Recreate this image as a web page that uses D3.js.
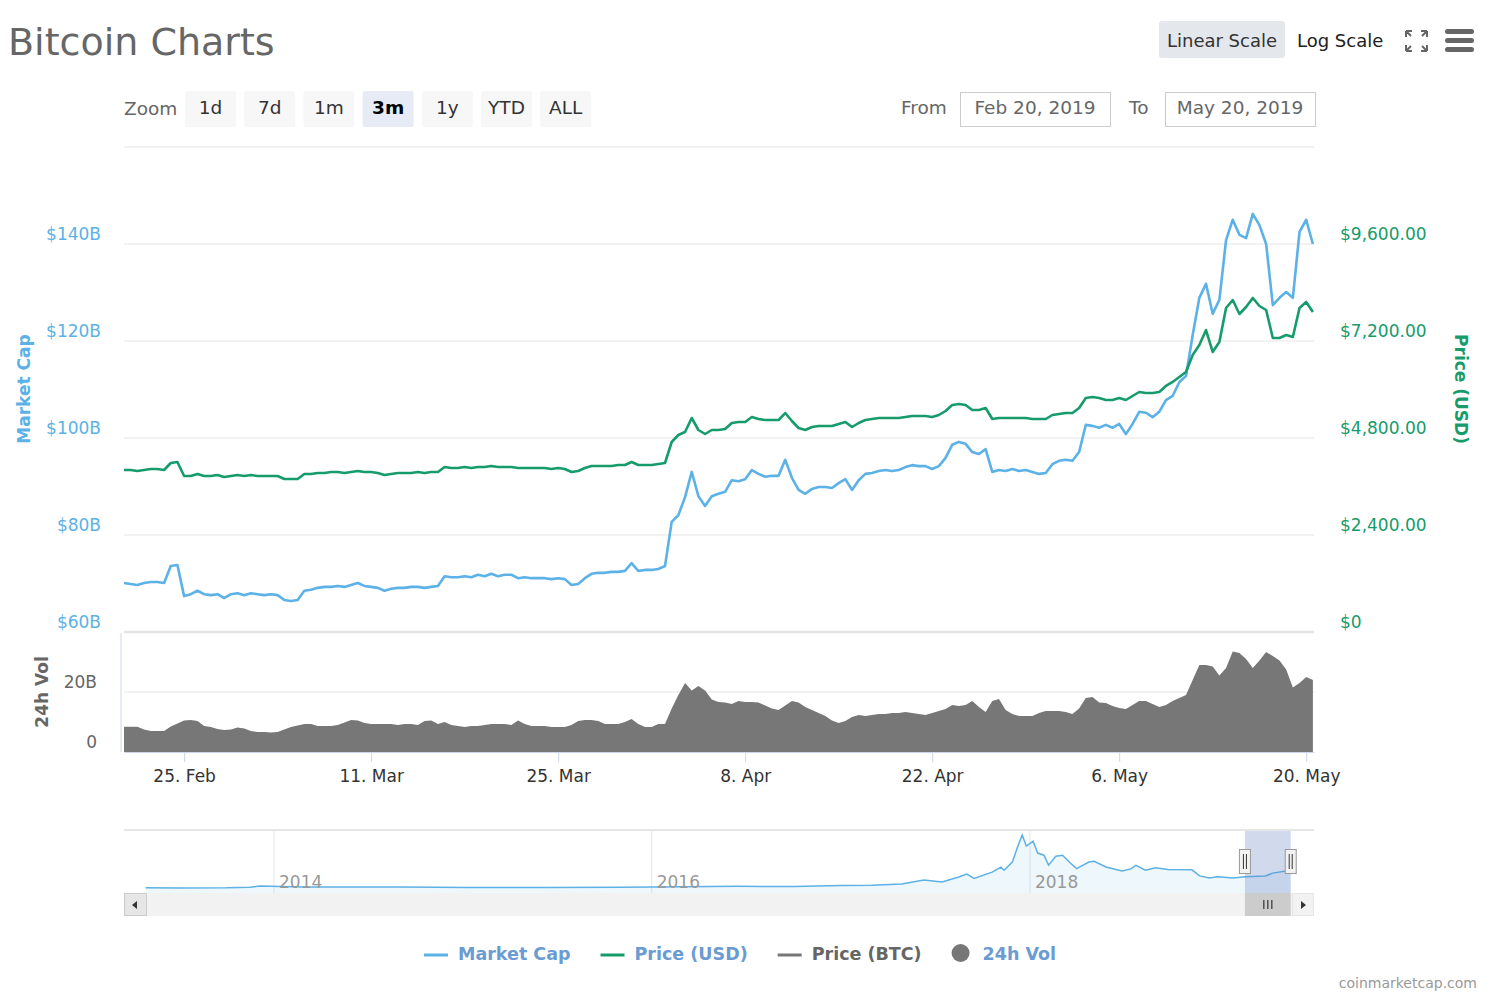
<!DOCTYPE html>
<html lang="en">
<head>
  <meta charset="UTF-8">
  <title>Bitcoin Charts</title>
  <style type="text/css">
    body {
      margin: 0;
      background: #fff;
    }
    svg text {
      font-family: "DejaVu Sans", sans-serif;
    }
    .axis-label text {
      font-size: 17px;
    }
    .axis-title {
      font-size: 17px;
      font-weight: bold;
    }
  </style>
</head>
<body>

  <svg id="chart" width="1496" height="1000"></svg>

<script src="https://d3js.org/d3.v7.min.js"></script>
<script>
  // ---- data (12h steps from Feb 20 2019 12:00 UTC) ----
  const startTime = Date.UTC(2019, 1, 20, 12)
  const stepHours = 12

  // market cap, billions USD
  const marketCap = [
    70.1, 69.9, 69.7, 70.1, 70.3, 70.3, 70.1, 73.6, 73.8, 67.4,
    67.8, 68.5, 67.8, 67.6, 67.8, 67.0, 67.8, 68.0, 67.6, 68.0,
    67.8, 67.6, 67.8, 67.6, 66.6, 66.4, 66.6, 68.5, 68.7, 69.1,
    69.3, 69.3, 69.5, 69.3, 69.7, 70.1, 69.5, 69.3, 69.1, 68.5,
    68.9, 69.1, 69.1, 69.3, 69.3, 69.1, 69.3, 69.5, 71.5, 71.3,
    71.3, 71.5, 71.3, 71.8, 71.5, 72.0, 71.5, 71.8, 71.8, 71.1,
    71.3, 71.1, 71.1, 71.1, 70.9, 71.1, 70.9, 69.7, 69.9, 71.1,
    72.0, 72.2, 72.2, 72.4, 72.4, 72.6, 74.2, 72.6, 72.8, 72.8,
    73.0, 73.6, 82.7, 84.1, 87.8, 93.0, 88.0, 86.0, 88.0, 88.5,
    88.9, 91.3, 91.1, 91.5, 93.4, 92.6, 92.0, 92.2, 92.2, 95.5,
    91.8, 89.3, 88.5, 89.5, 89.9, 89.9, 89.7, 90.7, 91.5, 89.3,
    91.3, 92.6, 92.8, 93.2, 93.4, 93.2, 93.4, 94.0, 94.4, 94.2,
    94.2, 93.6, 94.2, 95.9, 98.6, 99.2, 98.8, 97.1, 96.7, 97.7,
    93.0, 93.4, 93.2, 93.6, 93.2, 93.4, 93.0, 92.6, 92.8, 94.6,
    95.3, 95.5, 95.3, 97.1, 102.7, 102.5, 102.1, 102.7, 102.1, 102.9,
    100.8, 102.9, 105.4, 105.2, 104.3, 105.4, 107.8, 108.7, 111.5, 112.8,
    121.2, 128.9, 131.8, 125.6, 128.5, 140.8, 145.0, 141.9, 141.2, 146.2,
    143.9, 140.0, 127.4, 128.9, 130.1, 128.9, 142.5, 145.0, 140.0
  ]

  // price, USD
  const priceUsd = [
    4008, 4008, 3983, 4008, 4033, 4033, 4008, 4181, 4206, 3860,
    3860, 3909, 3860, 3860, 3884, 3835, 3860, 3884, 3860, 3884,
    3860, 3860, 3860, 3860, 3786, 3786, 3786, 3909, 3909, 3934,
    3934, 3959, 3959, 3934, 3959, 3983, 3959, 3959, 3934, 3884,
    3909, 3934, 3934, 3934, 3959, 3934, 3959, 3959, 4082, 4058,
    4058, 4082, 4058, 4082, 4082, 4107, 4082, 4082, 4082, 4058,
    4058, 4058, 4058, 4058, 4033, 4058, 4033, 3959, 3983, 4058,
    4107, 4107, 4107, 4107, 4132, 4132, 4206, 4132, 4132, 4132,
    4157, 4181, 4701, 4874, 4948, 5295, 4998, 4899, 4998, 4998,
    5023, 5171, 5196, 5196, 5320, 5270, 5245, 5245, 5245, 5418,
    5221, 5047, 4998, 5072, 5097, 5097, 5097, 5146, 5196, 5072,
    5171, 5245, 5270, 5295, 5295, 5295, 5295, 5320, 5344, 5344,
    5344, 5320, 5369, 5468, 5616, 5641, 5616, 5493, 5493, 5542,
    5270, 5295, 5295, 5295, 5295, 5295, 5270, 5270, 5270, 5369,
    5394, 5418, 5418, 5542, 5790, 5814, 5790, 5740, 5740, 5790,
    5740, 5839, 5938, 5913, 5913, 5938, 6087, 6186, 6309, 6433,
    6854, 7101, 7472, 6928, 7175, 8016, 8214, 7868, 8041, 8264,
    8066, 7967, 7274, 7274, 7348, 7299, 8016, 8165, 7917
  ]

  // 24h volume, billions USD
  const volume24h = [
    8.4, 8.4, 8.4, 7.5, 7.0, 7.0, 7.0, 8.5, 9.5, 10.5,
    10.7, 10.3, 8.7, 8.3, 7.7, 7.3, 7.5, 8.2, 7.8, 7.0,
    6.7, 6.7, 6.5, 6.7, 7.5, 8.3, 8.8, 9.3, 9.3, 8.7,
    8.7, 8.7, 9.0, 9.8, 10.7, 10.5, 9.7, 9.3, 9.3, 9.3,
    9.3, 9.0, 9.3, 9.3, 9.0, 10.3, 10.5, 9.3, 10.0, 9.0,
    8.7, 8.3, 8.7, 8.7, 9.0, 9.3, 9.3, 9.3, 9.0, 10.5,
    9.3, 8.7, 8.7, 8.7, 8.3, 8.3, 8.3, 9.0, 10.3, 10.7,
    10.7, 10.3, 9.3, 9.3, 9.3, 10.0, 11.0, 9.3, 8.3, 8.3,
    9.3, 9.3, 14.5, 19.0, 23.0, 20.5, 22.0, 20.5, 17.5, 16.7,
    16.5, 16.0, 17.0, 16.7, 16.7, 16.5, 15.5, 14.5, 14.0, 15.5,
    17.0, 16.5, 15.0, 14.0, 13.0, 12.0, 10.5, 9.7, 10.3, 11.7,
    12.3, 12.0, 12.3, 12.7, 12.7, 13.0, 13.0, 13.3, 13.0, 12.7,
    12.3, 13.0, 13.7, 14.3, 15.7, 15.3, 15.7, 17.0, 15.0, 13.3,
    17.0, 17.7, 14.0, 12.7, 12.0, 12.0, 12.0, 13.0, 13.7, 13.7,
    13.7, 13.3, 12.7, 14.5, 18.0, 18.3, 16.5, 16.3, 15.3, 14.7,
    14.3, 15.7, 17.0, 17.0, 16.0, 15.0, 15.7, 17.0, 18.0, 19.0,
    24.0, 29.0, 29.0, 28.5, 25.5, 28.0, 33.5, 33.0, 31.0, 28.0,
    30.5, 33.3, 32.0, 30.5, 27.5, 21.5, 23.0, 25.0, 24.0
  ]

  const capTicks = [60, 80, 100, 120, 140]
  const capGrid = [60, 80, 100, 120, 140, 160]
  const priceTicks = [0, 2400, 4800, 7200, 9600]
  const volTicks = [0, 20]
  const dateTicks = ['2019-02-25', '2019-03-11', '2019-03-25', '2019-04-08', '2019-04-22', '2019-05-06', '2019-05-20']

  // navigator: whole history of market cap, billions USD
  const navDates = [
    '2013-04-28', '2013-07-01', '2013-10-01', '2013-11-15', '2013-12-04',
    '2014-01-15', '2014-03-01', '2014-06-01', '2014-09-01',
    '2015-01-15', '2015-06-01', '2015-11-05',
    '2016-01-01', '2016-06-15', '2016-10-01',
    '2017-01-01', '2017-03-01', '2017-04-28', '2017-06-10', '2017-07-15',
    '2017-08-15', '2017-09-01', '2017-09-15', '2017-10-20', '2017-11-06',
    '2017-11-12', '2017-11-28', '2017-12-08', '2017-12-17', '2017-12-25',
    '2018-01-07', '2018-01-16', '2018-01-28', '2018-02-06', '2018-02-20',
    '2018-03-05', '2018-03-18', '2018-04-01', '2018-04-25', '2018-05-05',
    '2018-05-28', '2018-06-28', '2018-07-15', '2018-07-25', '2018-08-12',
    '2018-09-01', '2018-09-25', '2018-11-10', '2018-11-25', '2018-12-14',
    '2018-12-29', '2019-01-29', '2019-02-20', '2019-04-01', '2019-04-15',
    '2019-05-20'
  ]
  const navCap = [
    1.5, 1.0, 1.5, 5, 13,
    10, 7, 7.5, 6.5,
    3, 3.5, 6,
    6.5, 11, 10,
    16, 18, 25, 49, 37,
    67, 86, 60, 98, 129,
    110, 160, 252, 326, 258,
    288, 215, 202, 141, 196,
    202, 160, 120, 160, 165,
    130, 105, 118, 140, 110,
    125, 115, 112, 75, 62,
    70, 62, 70, 74, 92,
    110
  ]
  const navYears = ['2014-01-01', '2016-01-01', '2018-01-01']

  const zoomButtons = ['1d', '7d', '1m', '3m', '1y', 'YTD', 'ALL']
  const legendItems = [
    { name: 'Market Cap', color: '#5cb1e6', symbol: 'line', text: '#6a9bd3' },
    { name: 'Price (USD)', color: '#169b6b', symbol: 'line', text: '#6a9bd3' },
    { name: 'Price (BTC)', color: '#777777', symbol: 'line', text: '#666666' },
    { name: '24h Vol', color: '#777777', symbol: 'circle', text: '#6a9bd3' }
  ]

  // ---- drawing ----
  const blue = '#5cb1e6'
  const green = '#169b6b'
  const grid = '#e6e6e6'
  const axisLine = '#ccd6eb'

  const svg = d3.select('#chart')
  const parse = d3.utcParse('%Y-%m-%d')
  const times = marketCap.map((d, i) => new Date(startTime + i * stepHours * 3600 * 1000))

  // header
  svg.append('text').attr('x', 8).attr('y', 55)
    .style('font-size', '38px').attr('fill', '#666').text('Bitcoin Charts')

  svg.append('rect').attr('x', 1159).attr('y', 21).attr('width', 126).attr('height', 37)
    .attr('rx', 3).attr('fill', '#e4e7ec')
  svg.append('text').attr('x', 1222).attr('y', 47).attr('text-anchor', 'middle')
    .style('font-size', '18px').attr('fill', '#333').text('Linear Scale')
  svg.append('text').attr('x', 1297).attr('y', 47)
    .style('font-size', '18px').attr('fill', '#222').text('Log Scale')

  // fullscreen icon
  const fs = svg.append('g').attr('stroke', '#666').attr('stroke-width', 2).attr('fill', 'none')
  fs.append('path').attr('d', 'M1406,31 h6 M1406,31 v6 M1406,31 l5,5')
  fs.append('path').attr('d', 'M1427,31 h-6 M1427,31 v6 M1427,31 l-5,5')
  fs.append('path').attr('d', 'M1406,51 h6 M1406,51 v-6 M1406,51 l5,-5')
  fs.append('path').attr('d', 'M1427,51 h-6 M1427,51 v-6 M1427,51 l-5,-5')

  // menu icon
  ;[29, 38, 47].forEach(y => {
    svg.append('rect').attr('x', 1445).attr('y', y).attr('width', 29).attr('height', 5)
      .attr('rx', 2.5).attr('fill', '#666')
  })

  // zoom buttons
  svg.append('text').attr('x', 124).attr('y', 115)
    .style('font-size', '18.5px').attr('fill', '#666').text('Zoom')
  zoomButtons.forEach((b, i) => {
    const bx = 185 + i * 59.2
    const sel = b === '3m'
    svg.append('rect').attr('x', bx).attr('y', 91).attr('width', 51).attr('height', 36)
      .attr('rx', 2).attr('fill', sel ? '#e6ebf5' : '#f7f7f7')
    svg.append('text').attr('x', bx + 25.5).attr('y', 114).attr('text-anchor', 'middle')
      .style('font-size', '18.5px').style('font-weight', sel ? 'bold' : 'normal')
      .attr('fill', sel ? '#000' : '#333').text(b)
  })

  // date range inputs
  svg.append('text').attr('x', 901).attr('y', 114)
    .style('font-size', '18.5px').attr('fill', '#666').text('From')
  svg.append('text').attr('x', 1129).attr('y', 114)
    .style('font-size', '18.5px').attr('fill', '#666').text('To')
  ;[[960, 'Feb 20, 2019'], [1165, 'May 20, 2019']].forEach(([bx, label]) => {
    svg.append('rect').attr('x', bx + 0.5).attr('y', 92.5).attr('width', 150).attr('height', 34)
      .attr('fill', '#fff').attr('stroke', '#ccc')
    svg.append('text').attr('x', bx + 75).attr('y', 114).attr('text-anchor', 'middle')
      .style('font-size', '18.5px').attr('fill', '#666').text(label)
  })

  // scales
  const x = d3.scaleUtc()
    .domain([new Date(Date.UTC(2019, 1, 20, 12)), new Date(Date.UTC(2019, 4, 20, 14))])
    .range([124, 1314])
  const yCap = d3.scaleLinear().domain([60, 160]).range([632, 147])
  const yPrice = d3.scaleLinear().domain([0, 12000]).range([632, 147])
  const yVol = d3.scaleLinear().domain([0, 40]).range([752, 632])

  // grid lines
  svg.append('g').selectAll('line').data(capGrid).join('line')
    .attr('x1', 124).attr('x2', 1314)
    .attr('y1', d => yCap(d)).attr('y2', d => yCap(d))
    .attr('stroke', grid).attr('stroke-width', d => d === 60 ? 2.5 : 1.2)
  svg.append('line').attr('x1', 124).attr('x2', 1314)
    .attr('y1', yVol(20)).attr('y2', yVol(20)).attr('stroke', grid).attr('stroke-width', 1.2)
  svg.append('line').attr('x1', 121).attr('x2', 121).attr('y1', 633).attr('y2', 752)
    .attr('stroke', axisLine)

  // volume
  const volArea = d3.area()
    .x((d, i) => x(times[i]))
    .y0(yVol(0))
    .y1(d => yVol(d))
  svg.append('path').datum(volume24h).attr('d', volArea).attr('fill', '#777')

  // lines
  const capLine = d3.line().x((d, i) => x(times[i])).y(d => yCap(d))
  const priceLine = d3.line().x((d, i) => x(times[i])).y(d => yPrice(d))
  svg.append('path').datum(marketCap).attr('d', capLine)
    .attr('fill', 'none').attr('stroke', blue).attr('stroke-width', 2.6).attr('stroke-linejoin', 'round')
  svg.append('path').datum(priceUsd).attr('d', priceLine)
    .attr('fill', 'none').attr('stroke', green).attr('stroke-width', 2.6).attr('stroke-linejoin', 'round')

  // axes
  const capAxis = svg.append('g').attr('class', 'axis-label').attr('transform', 'translate(101,-10)')
    .call(d3.axisLeft(yCap).tickValues(capTicks).tickSize(0).tickPadding(0)
      .tickFormat(d => '$' + d + 'B'))
  capAxis.select('.domain').remove()
  capAxis.selectAll('text').attr('fill', blue)

  const priceAxis = svg.append('g').attr('class', 'axis-label').attr('transform', 'translate(1340,-10)')
    .call(d3.axisRight(yPrice).tickValues(priceTicks).tickSize(0).tickPadding(0)
      .tickFormat(d => d === 0 ? '$0' : '$' + d3.format(',.2f')(d)))
  priceAxis.select('.domain').remove()
  priceAxis.selectAll('text').attr('fill', green)

  const volAxis = svg.append('g').attr('class', 'axis-label').attr('transform', 'translate(97,-10)')
    .call(d3.axisLeft(yVol).tickValues(volTicks).tickSize(0).tickPadding(0)
      .tickFormat(d => d === 0 ? '0' : d + 'B'))
  volAxis.select('.domain').remove()
  volAxis.selectAll('text').attr('fill', '#666')

  const xAxis = svg.append('g').attr('class', 'axis-label').attr('transform', 'translate(0,752)')
    .call(d3.axisBottom(x).tickValues(dateTicks.map(parse)).tickSize(10).tickSizeOuter(0).tickPadding(8)
      .tickFormat(d3.utcFormat('%-d. %b')))
  xAxis.select('.domain').attr('stroke', axisLine)
  xAxis.selectAll('.tick line').attr('stroke', axisLine)
  xAxis.selectAll('text').attr('fill', '#333')

  // axis titles
  svg.append('text').attr('class', 'axis-title').attr('transform', 'translate(30,389) rotate(-90)')
    .attr('text-anchor', 'middle').attr('fill', blue).text('Market Cap')
  svg.append('text').attr('class', 'axis-title').attr('transform', 'translate(48,692) rotate(-90)')
    .attr('text-anchor', 'middle').attr('fill', '#666').text('24h Vol')
  svg.append('text').attr('class', 'axis-title').attr('transform', 'translate(1455,389) rotate(90)')
    .attr('text-anchor', 'middle').attr('fill', green).text('Price (USD)')

  // ---- navigator ----
  const navX = d3.scaleUtc()
    .domain([new Date(Date.UTC(2013, 2, 17)), new Date(Date.UTC(2019, 6, 4))])
    .range([124, 1314])
  const navY = d3.scaleLinear().domain([-30, 326]).range([893, 835])
  const navTimes = navDates.map(parse)

  svg.append('line').attr('x1', 124).attr('x2', 1314).attr('y1', 830).attr('y2', 830)
    .attr('stroke', grid).attr('stroke-width', 2)
  svg.append('g').selectAll('line').data(navYears.map(parse)).join('line')
    .attr('x1', d => navX(d)).attr('x2', d => navX(d)).attr('y1', 831).attr('y2', 893)
    .attr('stroke', grid)

  svg.append('path').datum(navCap)
    .attr('d', d3.area().x((d, i) => navX(navTimes[i])).y0(893).y1(d => navY(d)))
    .attr('fill', 'rgba(92,177,230,0.1)')
  svg.append('path').datum(navCap)
    .attr('d', d3.line().x((d, i) => navX(navTimes[i])).y(d => navY(d)))
    .attr('fill', 'none').attr('stroke', blue).attr('stroke-width', 1.5)

  svg.append('g').selectAll('text').data(navYears.map(parse)).join('text')
    .attr('x', d => navX(d) + 5).attr('y', 888)
    .style('font-size', '17px').attr('fill', '#999')
    .text(d => d3.utcFormat('%Y')(d))

  const selX0 = navX(x.domain()[0])
  const selX1 = navX(new Date(Date.UTC(2019, 4, 20)))
  svg.append('rect').attr('x', selX0).attr('y', 831).attr('width', selX1 - selX0).attr('height', 62)
    .attr('fill', 'rgba(102,133,194,0.3)')

  // scrollbar
  svg.append('rect').attr('x', 124).attr('y', 893).attr('width', 1190).attr('height', 23)
    .attr('fill', '#f2f2f2')
  svg.append('rect').attr('x', selX0).attr('y', 893).attr('width', selX1 - selX0).attr('height', 23)
    .attr('fill', '#cccccc')
  const gripX = (selX0 + selX1) / 2
  ;[-4, 0, 4].forEach(dx => {
    svg.append('line').attr('x1', gripX + dx).attr('x2', gripX + dx).attr('y1', 900).attr('y2', 909)
      .attr('stroke', '#333').attr('stroke-width', 1.2)
  })
  svg.append('rect').attr('x', 124.5).attr('y', 893.5).attr('width', 22).attr('height', 22)
    .attr('fill', '#e6e6e6').attr('stroke', '#ccc')
  svg.append('path').attr('d', 'M132,905 L137,901 L137,909 Z').attr('fill', '#333')
  svg.append('rect').attr('x', 1292.5).attr('y', 893.5).attr('width', 21).attr('height', 22)
    .attr('fill', '#f2f2f2').attr('stroke', '#e6e6e6')
  svg.append('path').attr('d', 'M1306,905 L1301,901 L1301,909 Z').attr('fill', '#333')

  // navigator handles
  ;[selX0, selX1].forEach(hx => {
    svg.append('rect').attr('x', hx - 5.5).attr('y', 849.5).attr('width', 11).attr('height', 24)
      .attr('fill', '#f2f2f2').attr('stroke', '#999')
    ;[-1.5, 1.5].forEach(dx => {
      svg.append('line').attr('x1', hx + dx).attr('x2', hx + dx).attr('y1', 854).attr('y2', 869)
        .attr('stroke', '#333')
    })
  })

  // ---- legend ----
  let lx = 424
  legendItems.forEach(item => {
    const g = svg.append('g')
    let tx
    if (item.symbol === 'line') {
      g.append('line').attr('x1', lx).attr('x2', lx + 24).attr('y1', 955).attr('y2', 955)
        .attr('stroke', item.color).attr('stroke-width', 3)
      tx = lx + 34
    } else {
      g.append('circle').attr('cx', lx + 9).attr('cy', 953).attr('r', 9).attr('fill', item.color)
      tx = lx + 31
    }
    const t = g.append('text').attr('x', tx).attr('y', 960)
      .style('font-size', '17.5px').style('font-weight', 'bold').attr('fill', item.text).text(item.name)
    lx = tx + t.node().getComputedTextLength() + 30
  })

  svg.append('text').attr('x', 1477).attr('y', 988).attr('text-anchor', 'end')
    .style('font-size', '14px').attr('fill', '#999').text('coinmarketcap.com')
</script>
</body>
</html>
